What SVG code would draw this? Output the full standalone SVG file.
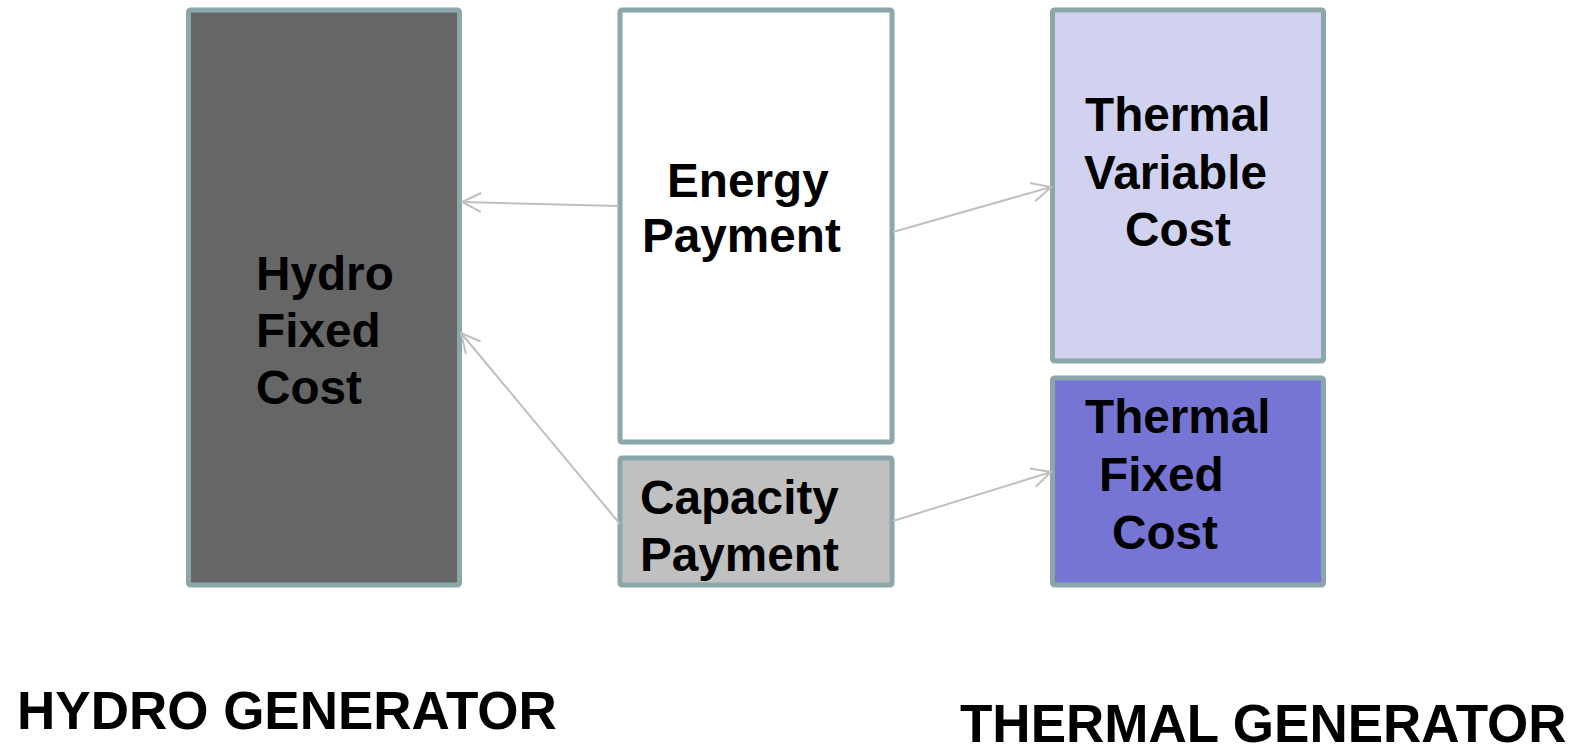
<svg xmlns="http://www.w3.org/2000/svg" width="1587" height="747" viewBox="0 0 1587 747">
<style>
.box{stroke:#8aa7aa;stroke-width:5}
.lbl{font-family:"Liberation Sans",Arial,sans-serif;font-weight:bold;font-size:47.7px;fill:#000}
.big{font-family:"Liberation Sans",Arial,sans-serif;font-weight:bold;font-size:53px;fill:#000}
.conn{stroke:#c0c0c0;stroke-width:2;fill:none}
</style>
<defs>
<marker id="arr" viewBox="-1 -1 22 22" refX="19" refY="9.5" markerWidth="22" markerHeight="22" markerUnits="userSpaceOnUse" orient="auto">
<path d="M0,0 L19,9.5 L0,19" fill="none" stroke="#c0c0c0" stroke-width="2"/>
</marker>
</defs>
<rect width="1587" height="747" fill="#fff"/>
<g id="hydro-fixed-cost">
<rect class="box" x="188.5" y="10" width="271" height="575" rx="2" fill="#666666"/>
<text class="lbl" x="256" y="290">Hydro</text>
<text class="lbl" x="256" y="347">Fixed</text>
<text class="lbl" x="256" y="404">Cost</text>
</g>
<g id="energy-payment">
<rect class="box" x="620" y="10" width="272" height="432" rx="2" fill="#ffffff"/>
<text class="lbl" x="667" y="197">Energy</text>
<text class="lbl" x="642" y="252">Payment</text>
</g>
<g id="capacity-payment">
<rect class="box" x="620" y="458" width="272" height="127" rx="2" fill="#c0c0c0"/>
<text class="lbl" x="640" y="514">Capacity</text>
<text class="lbl" x="640" y="571">Payment</text>
</g>
<g id="thermal-variable-cost">
<rect class="box" x="1052.5" y="10" width="271" height="351" rx="2" fill="#d1d2ef"/>
<text class="lbl" x="1085" y="131">Thermal</text>
<text class="lbl" x="1084" y="189">Variable</text>
<text class="lbl" x="1125" y="246">Cost</text>
</g>
<g id="thermal-fixed-cost">
<rect class="box" x="1052.5" y="378" width="271" height="207" rx="2" fill="#7675d3"/>
<text class="lbl" x="1085" y="433">Thermal</text>
<text class="lbl" x="1099" y="491">Fixed</text>
<text class="lbl" x="1112" y="549">Cost</text>
</g>
<g id="hydro-generator-label">
<text class="big" x="17" y="729">HYDRO GENERATOR</text>
</g>
<g id="thermal-generator-label">
<text class="big" x="960" y="742">THERMAL GENERATOR</text>
</g>
<g id="connectors">
<line class="conn" x1="619" y1="206" x2="462" y2="202" marker-end="url(#arr)"/>
<line class="conn" x1="893" y1="232" x2="1051" y2="187" marker-end="url(#arr)"/>
<line class="conn" x1="620" y1="524" x2="461" y2="333" marker-end="url(#arr)"/>
<line class="conn" x1="893" y1="521" x2="1051" y2="472" marker-end="url(#arr)"/>
</g>
</svg>
